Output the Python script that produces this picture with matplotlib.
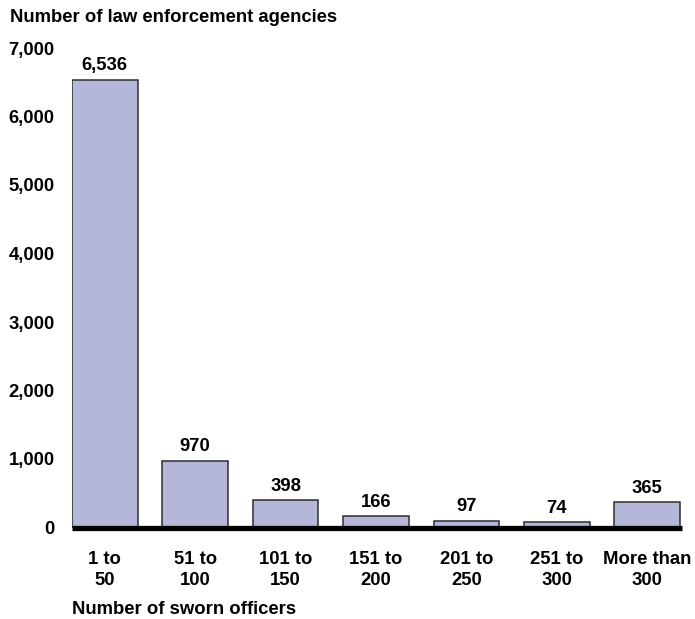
import matplotlib
matplotlib.use('Agg')
import matplotlib.pyplot as plt

# Data
categories = ['1 to\n50', '51 to\n100', '101 to\n150', '151 to\n200',
              '201 to\n250', '251 to\n300', 'More than\n300']
agencies = [6536, 970, 398, 166, 97, 74, 365]
yticks = [0, 1000, 2000, 3000, 4000, 5000, 6000, 7000]

plt.rcParams['font.family'] = ['Liberation Sans', 'DejaVu Sans']
plt.rcParams['font.weight'] = 'bold'
plt.rcParams['font.size'] = 13.3

fig = plt.figure(figsize=(6.95, 6.19), dpi=100)
ax = fig.add_axes([72 / 695, 1 - 527.5 / 619, 610 / 695, (527.5 - 48) / 619])

x = list(range(len(categories)))
bars = ax.bar(x, agencies, width=0.725, color='#b4b7d8',
              edgecolor='#2e2e2e', linewidth=1.1, zorder=2)

# value labels
for xi, v in zip(x, agencies):
    ax.annotate(f'{v:,}', (xi, v), xytext=(0, 4), textcoords='offset points',
                ha='center', va='bottom', fontweight='bold')

# thick baseline
ax.axhline(0, color='black', linewidth=3.8, zorder=3, clip_on=False,
           solid_capstyle='butt')

ax.set_xlim(-0.3625, 6.385)
ax.set_ylim(0, 7000)
ax.set_yticks(yticks)
ax.set_yticklabels([f'{t:,}' for t in yticks])
ax.set_xticks(x)
ax.set_xticklabels(categories, linespacing=1.3)
ax.tick_params(axis='y', length=0, pad=12.5)
ax.tick_params(axis='x', length=0, pad=17)
for s in ax.spines.values():
    s.set_visible(False)

fig.text(10 / 695, 1 - 17 / 619, 'Number of law enforcement agencies',
         ha='left', va='center', fontweight='bold')
fig.text(72 / 695, 1 - 610 / 619, 'Number of sworn officers',
         ha='left', va='center', fontweight='bold')

fig.savefig('out.png', dpi=100)
